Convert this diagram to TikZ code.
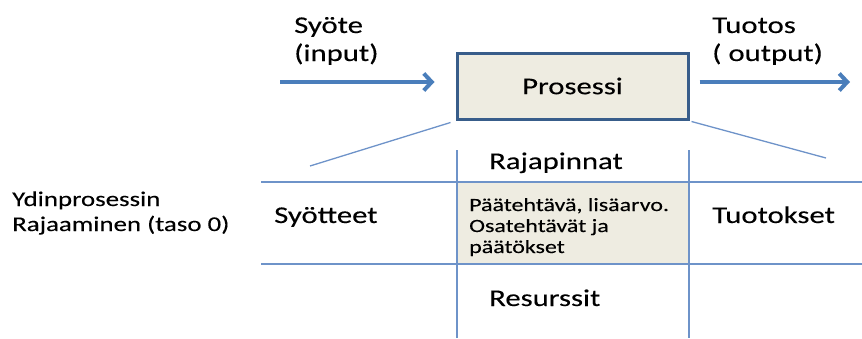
\documentclass[tikz,border=0pt]{standalone}
\usepackage{fontspec}
\setmainfont{Carlito}[FakeStretch=1.28,FakeBold=0.2]
\usetikzlibrary{arrows.meta}
\definecolor{arrowblue}{HTML}{4A7EBB}
\definecolor{boxborder}{HTML}{385D8A}
\definecolor{boxfill}{HTML}{EEECE1}
\definecolor{gridblue}{HTML}{6E93C9}
\tikzset{
  lbl/.style={anchor=base west, inner sep=0pt, font=\fontsize{24}{28}\selectfont},
  sidelbl/.style={anchor=base west, inner sep=0pt, font=\fontsize{21}{25}\selectfont},
  celllbl/.style={anchor=base west, inner sep=0pt, font=\fontsize{18.7}{21}\selectfont},
  flow/.style={draw=arrowblue, line width=4pt, -{Straight Barb[length=8pt,width=17pt,line width=4pt]}},
  gridline/.style={draw=gridblue, line width=1.3pt},
  procbox/.style={draw=boxborder, fill=boxfill, line width=3pt, minimum width=231pt, minimum height=66pt, inner sep=0pt, font=\fontsize{24}{28}\selectfont}
}
\begin{document}
\begin{tikzpicture}[x=1pt,y=-1pt]
\useasboundingbox (0,0) rectangle (862,338);
% center cell fill
\fill[boxfill] (457,182) rectangle (689,264);
% process box
\node[procbox] (box) at (572.5,86) {Prosessi};
% arrows
\coordinate (inpt) at (280,82);
\coordinate (outp) at (850,82);
\draw[flow, shorten >=21pt] (inpt) -- (inpt -| box.west);
\draw[flow, shorten <=10pt] (box.east |- outp) -- (outp);
% top labels
\node[lbl] (syote) at (294,33) {Syöte};
\node[lbl] (input) at (294,61) {(input)};
\node[lbl] (tuotos) at (712,33) {Tuotos};
\node[lbl] (output) at (712,61) {( output)};
% diagonals
\coordinate (dl) at (310,166);
\coordinate (dr) at (826,158);
\draw[gridline] ([xshift=-5pt,yshift=-2pt]box.south west) -- (dl);
\draw[gridline] ([xshift=2pt,yshift=-1pt]box.south east) -- (dr);
% grid
\coordinate (v1t) at (457,150); \coordinate (v1b) at (457,338);
\coordinate (v2t) at (689,150); \coordinate (v2b) at (689,338);
\coordinate (h1l) at (261,182); \coordinate (h1r) at (862,182);
\coordinate (h2l) at (261,264); \coordinate (h2r) at (862,264);
\draw[gridline] (v1t) -- (v1b);
\draw[gridline] (v2t) -- (v2b);
\draw[gridline] (h1l) -- (h1r);
\draw[gridline] (h2l) -- (h2r);
% grid labels
\node[lbl] (raja) at (489,169) {Rajapinnat};
\node[lbl] (syot) at (274,223) {Syötteet};
\node[lbl] (tuot) at (712,223) {Tuotokset};
\node[lbl] (resu) at (489,306) {Resurssit};
\node[celllbl] (c1) at (469,211) {Päätehtävä, lisäarvo.};
\node[celllbl] (c2) at (469,232) {Osatehtävät ja};
\node[celllbl] (c3) at (469,253) {päätökset};
% side label
\node[sidelbl] (yd1) at (12,206) {Ydinprosessin};
\node[sidelbl] (yd2) at (12,231) {Rajaaminen (taso 0)};
\end{tikzpicture}
\end{document}
